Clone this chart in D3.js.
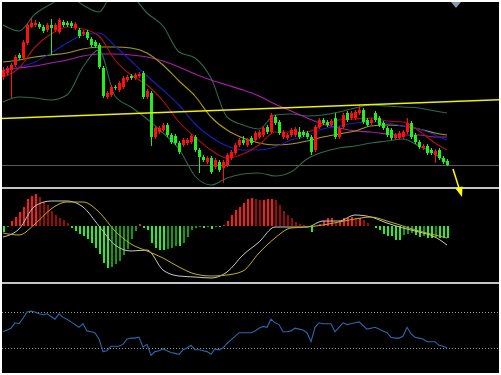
<!DOCTYPE html>
<html>
<head>
<meta charset="utf-8">
<script src="https://cdn.jsdelivr.net/npm/d3@7"></script>
<style>
body { margin: 0; background: #fff; }
svg { display: block; }
</style>
</head>
<body>
<script>
// candles, price in points (red = up, green = down)
var open  = [123,127,130,135,145,142,157,173,175,176,173,170,175,170,168,178,177,177,172,170,166,168,161,158,155,132,103,105,113,110,113,120,124,122,124,127,103,107,63,68,70,75,65,64,57,55,57,58,63,50,43,38,42,33,38,32,35,42,47,55,60,55,62,60,63,65,73,68,83,78,63,62,65,65,68,68,67,63,50,73,80,78,75,82,63,73,87,82,82,87,90,80,77,87,82,77,72,70,62,62,63,68,77,65,58,52,54,50,45,50,42,39];
var high  = [133,134,137,145,147,160,177,182,180,178,175,177,181,177,182,180,179,179,178,172,170,170,163,160,157,134,109,115,115,119,124,125,126,127,128,129,111,109,74,74,77,77,67,66,59,62,62,66,65,52,45,44,44,42,40,40,47,50,57,62,64,62,64,69,70,74,75,87,85,80,70,67,72,73,73,70,69,65,75,82,82,80,81,87,74,87,89,89,90,95,92,82,82,89,84,79,74,72,67,69,70,82,79,67,60,56,56,52,51,52,44,41];
var low   = [120,125,102,133,140,140,155,172,173,171,167,168,145,168,166,173,173,172,170,162,164,160,153,152,131,102,101,103,110,108,111,118,120,120,122,101,101,54,61,66,68,63,56,55,46,53,55,56,48,27,38,36,26,31,28,17,33,40,45,53,55,53,55,58,61,63,66,66,75,65,61,60,63,63,61,63,61,45,48,71,75,73,73,61,61,71,78,80,80,85,76,73,75,78,73,70,63,60,60,60,61,66,61,56,51,50,45,45,37,40,36,34];
var close = [130,132,135,143,142,158,175,177,177,173,169,175,172,175,180,175,175,174,176,164,168,162,155,154,133,104,107,113,112,117,122,123,122,125,126,103,109,63,72,72,75,65,58,57,48,60,60,64,50,43,40,42,28,40,30,38,45,48,55,60,57,60,57,67,68,72,68,85,77,67,68,65,70,71,63,65,63,48,73,80,77,75,79,63,72,85,80,87,88,90,78,75,80,80,75,72,65,62,65,67,68,77,63,58,53,54,47,47,49,42,38,35];

// overlay lines, read every 4th candle
var lineIdx  = [0,4,8,12,16,20,24,28,32,36,40,44,48,52,56,60,64,68,72,76,80,84,88,92,96,100,104,108,111];
var maFast   = [123,132,153,166,173,171,164,140,125,115,99,78,63,50,42,46,55,68,68,68,75,80,81,82,79,78,69,57,50];
var maMid    = [130,133,138,147,157,165,167,154,139,124,110,95,76,63,54,50,50,53,60,64,71,74,77,78,77,74,71,65,60];
var maSlow   = [138,140,143,145,147,151,153,153,152,147,135,119,104,83,70,62,57,55,56,59,63,66,69,74,75,74,71,67,65];
var maLong   = [130,132,134,137,140,144,146,146,145,143,139,133,126,120,115,110,104,96,89,82,76,72,69,68,66,65,65,63,63];
var bbUpper  = [175,169,186,196,205,195,188,210,205,187,174,148,142,122,83,75,71,85,86,84,85,88,92,95,94,93,92,89,87];
var bbLower  = [98,103,102,100,105,133,150,104,93,81,67,51,24,15,22,26,27,24,28,41,48,52,54,57,59,61,54,46,37];

var levelPrice = 35;
var trendLine = [[-1, 81.5], [125, 100.5]];

// MACD
var macdHist = [-6,-1,5,9,14,19,27,30,32,29,24,21,15,11,8,6,3,-2,-5,-8,-10,-13,-17,-22,-28,-37,-42,-41,-38,-35,-29,-23,-13,-5,2,-2,-4,-17,-22,-24,-24,-23,-22,-20,-20,-17,-11,-4,-2,-1,-2,-1,-3,-1,-1,1,5,11,16,19,23,27,28,27,26,26,27,27,26,21,15,11,8,4,2,1,0,-6,0,2,5,8,8,4,5,8,8,9,8,8,6,3,0,-2,-4,-8,-10,-10,-14,-14,-9,-8,-7,-9,-11,-10,-12,-12,-11,-12,-12,-12];
var macdLine   = [-11,-3,20,25,25,19,0,-19,-25,-24,-44,-50,-51,-52,-46,-29,-16,-1,-1,-1,5,5,11,9,3,-2,-6,-11,-19];
var macdSignal = [-7,-9,2,17,24,24,14,-5,-18,-25,-32,-41,-48,-50,-49,-45,-27,-12,-2,-1,1,4,7,9,5,0,-5,-9,-12];

// RSI
var rsi = [48,50,52,58,57,63,70,71,70,68,67,68,65,62,68,64,62,59,56,53,57,49,48,47,40,26,27,32,32,32,34,40,41,41,42,31,34,22,26,27,29,27,25,24,23,28,30,33,28,28,27,26,23,29,28,30,35,39,43,47,47,47,47,49,52,54,53,62,58,56,48,48,49,52,51,50,47,37,53,58,57,57,57,48,53,58,56,57,58,59,55,51,52,53,51,49,47,42,41,41,43,53,46,42,41,40,37,37,37,33,32,30];
var rsiLevels = [70, 30];

var svg = d3.select("body").append("svg")
    .attr("width", 501)
    .attr("height", 375);

svg.append("rect")
    .attr("x", 2).attr("y", 2)
    .attr("width", 497).attr("height", 371)
    .attr("fill", "#000");

var x = d3.scaleLinear().domain([0, 111]).range([3, 447]);
var yMain = d3.scaleLinear().domain([13, 200]).range([187, 0]);
var yMacd = d3.scaleLinear().domain([-55, 36]).range([281, 190]);
var yRsi = d3.scaleLinear().domain([0, 100]).range([375, 285]);

var defs = svg.append("defs");
defs.append("clipPath").attr("id", "clipMain")
  .append("rect").attr("x", 2).attr("y", 2).attr("width", 497).attr("height", 185);
defs.append("clipPath").attr("id", "clipMacd")
  .append("rect").attr("x", 2).attr("y", 190).attr("width", 497).attr("height", 91);
defs.append("clipPath").attr("id", "clipRsi")
  .append("rect").attr("x", 2).attr("y", 285).attr("width", 497).attr("height", 88);

// ---- main panel
var main = svg.append("g").attr("clip-path", "url(#clipMain)");

main.append("line")
    .attr("x1", 2).attr("x2", 499)
    .attr("y1", Math.round(yMain(levelPrice)) + 0.5)
    .attr("y2", Math.round(yMain(levelPrice)) + 0.5)
    .attr("stroke", "#5a5a5a");

function overlay(vals, color) {
  var line = d3.line()
      .x(function(d, k) { return x(lineIdx[k]); })
      .y(function(d) { return yMain(d); })
      .curve(d3.curveMonotoneX);
  main.append("path")
      .datum(vals)
      .attr("d", line)
      .attr("fill", "none")
      .attr("stroke", color)
      .attr("stroke-width", 1.1);
}
overlay(bbUpper, "#2d6a4a");
overlay(bbLower, "#2d6a4a");
overlay(maLong, "#b01cb0");
overlay(maSlow, "#a89a14");
overlay(maMid, "#1c1cc0");
overlay(maFast, "#b21010");

var candles = main.selectAll("g.candle")
  .data(close)
  .enter()
  .append("g")
    .attr("class", "candle")
    .attr("shape-rendering", "crispEdges");

candles.append("line")
    .attr("x1", function(d, i) { return x(i) + 0.5; })
    .attr("x2", function(d, i) { return x(i) + 0.5; })
    .attr("y1", function(d, i) { return yMain(high[i]); })
    .attr("y2", function(d, i) { return yMain(low[i]); })
    .attr("stroke", function(d, i) { return d >= open[i] ? "#ff1010" : "#22ee22"; });

candles.append("rect")
    .attr("x", function(d, i) { return x(i) - 1; })
    .attr("y", function(d, i) { return yMain(Math.max(d, open[i])); })
    .attr("width", 3)
    .attr("height", function(d, i) { return Math.max(1, Math.abs(yMain(d) - yMain(open[i]))); })
    .attr("fill", function(d, i) { return d >= open[i] ? "#ff1010" : "#22ee22"; });

main.append("line")
    .attr("x1", x(trendLine[0][0])).attr("y1", yMain(trendLine[0][1]))
    .attr("x2", x(trendLine[1][0])).attr("y2", yMain(trendLine[1][1]))
    .attr("stroke", "#f0f000")
    .attr("stroke-width", 1.5);

// ---- MACD panel
var macd = svg.append("g").attr("clip-path", "url(#clipMacd)");

macd.selectAll("rect")
  .data(macdHist)
  .enter()
  .append("rect")
    .attr("shape-rendering", "crispEdges")
    .attr("x", function(d, i) { return x(i) - 0.5; })
    .attr("y", function(d) { return d >= 0 ? yMacd(d) : yMacd(0); })
    .attr("width", 2)
    .attr("height", function(d) { return Math.abs(yMacd(d) - yMacd(0)); })
    .attr("fill", function(d, i) {
      var prev = i > 0 ? macdHist[i - 1] : 0;
      if (d >= 0) return d >= prev ? "#ff1a1a" : "#9a0a0a";
      return d <= prev ? "#28f028" : "#129a12";
    });

function macdPath(vals, color) {
  var line = d3.line()
      .x(function(d, k) { return x(lineIdx[k]); })
      .y(function(d) { return yMacd(d); })
      .curve(d3.curveMonotoneX);
  macd.append("path")
      .datum(vals)
      .attr("d", line)
      .attr("fill", "none")
      .attr("stroke", color)
      .attr("stroke-width", 1);
}
macdPath(macdLine, "#c8c8c8");
macdPath(macdSignal, "#c4b010");

// ---- RSI panel
var rsiG = svg.append("g").attr("clip-path", "url(#clipRsi)");

rsiG.selectAll("line.level")
  .data(rsiLevels)
  .enter()
  .append("line")
    .attr("class", "level")
    .attr("x1", 2).attr("x2", 499)
    .attr("y1", function(d) { return Math.round(yRsi(d)) + 0.5; })
    .attr("y2", function(d) { return Math.round(yRsi(d)) + 0.5; })
    .attr("stroke", "#9a9a9a")
    .attr("stroke-dasharray", "1,2");

rsiG.append("path")
    .datum(rsi)
    .attr("d", d3.line()
      .x(function(d, i) { return x(i); })
      .y(function(d) { return yRsi(d); }))
    .attr("fill", "none")
    .attr("stroke", "#2a68ac")
    .attr("stroke-width", 1.1);

// ---- separators
[188, 283].forEach(function(yy) {
  svg.append("rect")
      .attr("x", 2).attr("y", yy - 1)
      .attr("width", 497).attr("height", 2)
      .attr("fill", "#c4c4c4");
});

// ---- marker triangle and arrow
svg.append("path")
    .attr("d", "M" + x(112) + ",2 L" + x(114.5) + ",2 L" + x(113.25) + ",8 Z")
    .attr("fill", "#8796a8");

var ax = x(112.5), ay = yMain(31);
svg.append("line")
    .attr("x1", ax).attr("y1", ay)
    .attr("x2", ax + 6).attr("y2", ay + 19)
    .attr("stroke", "#ffff00")
    .attr("stroke-width", 1.5);
svg.append("path")
    .attr("d", "M" + (ax + 9) + "," + (ay + 28) +
               " L" + (ax + 2.5) + "," + (ay + 19.5) +
               " L" + (ax + 9.5) + "," + (ay + 17.5) + " Z")
    .attr("fill", "#ffff00");
</script>
</body>
</html>
